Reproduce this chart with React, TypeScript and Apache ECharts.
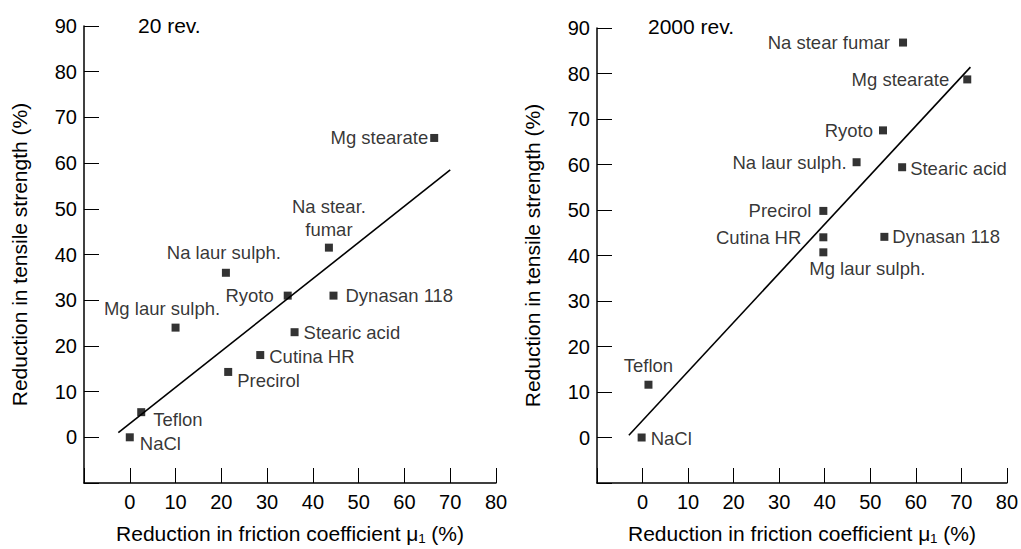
import React, { useEffect, useRef } from "react";
import * as echarts from "echarts";

// ---- Data ----
const xTicks = [-10, 0, 10, 20, 30, 40, 50, 60, 70, 80];
const yTicks = [-10, 0, 10, 20, 30, 40, 50, 60, 70, 80, 90];

const leftTitle = "20 rev.";
const leftNames = ["Mg stearate", "Na stear.\nfumar", "Na laur sulph.", "Ryoto", "Dynasan 118", "Mg laur sulph.", "Stearic acid", "Cutina HR", "Precirol", "Teflon", "NaCl"];
const leftX = [66.5, 43.5, 21, 34.5, 44.5, 10, 36, 28.5, 21.5, 2.5, 0];
const leftY = [65.5, 41.5, 36, 31, 31, 24, 23, 18, 14.3, 5.5, 0];
const leftFitX = [-2.5, 70];
const leftFitY = [1, 58.5];

const rightTitle = "2000 rev.";
const rightNames = ["Na stear fumar", "Mg stearate", "Ryoto", "Na laur sulph.", "Stearic acid", "Precirol", "Cutina HR", "Dynasan 118", "Mg laur sulph.", "Teflon", "NaCl"];
const rightX = [57.2, 71.3, 52.8, 47, 57, 39.7, 39.7, 53.1, 39.7, 1.3, -0.2];
const rightY = [86.8, 78.7, 67.5, 60.5, 59.4, 49.8, 44, 44.1, 40.7, 11.6, 0];
const rightFitX = [-3, 72];
const rightFitY = [0.5, 81.4];

const xName = "Reduction in friction coefficient μ₁ (%)";
const yName = "Reduction in tensile strength (%)";

// ---- Label layout (styling only) ----
type LL = { position: string; distance: number; offset?: number[] };
const leftLabelLayout: LL[] = [
  { position: "left", distance: 2 },
  { position: "top", distance: 3 },
  { position: "top", distance: 5, offset: [-2, 0] },
  { position: "left", distance: 10 },
  { position: "right", distance: 8 },
  { position: "top", distance: 4, offset: [-13.5, 0] },
  { position: "right", distance: 5 },
  { position: "right", distance: 5, offset: [0, 1] },
  { position: "right", distance: 5, offset: [0, 9] },
  { position: "right", distance: 8, offset: [0, 7] },
  { position: "right", distance: 6, offset: [0, 6] },
];
const rightLabelLayout: LL[] = [
  { position: "left", distance: 9 },
  { position: "left", distance: 14 },
  { position: "left", distance: 6 },
  { position: "left", distance: 6 },
  { position: "right", distance: 4, offset: [0, 1] },
  { position: "left", distance: 8 },
  { position: "left", distance: 18 },
  { position: "right", distance: 4 },
  { position: "bottom", distance: 1, offset: [44, 0] },
  { position: "top", distance: 4 },
  { position: "right", distance: 5, offset: [0, 1] },
];

const FONT = "'Liberation Sans', Arial, Helvetica, sans-serif";
const INK = "#000";

function axisPair(idx: number) {
  const common = {
    gridIndex: idx,
    type: "value" as const,
    min: -10,
    interval: 10,
    axisLine: { show: true, onZero: false, lineStyle: { color: INK, width: 1.5 } },
    axisTick: { show: true, inside: true, length: 15, lineStyle: { color: INK, width: 1 } },
    splitLine: { show: false },
    nameLocation: "middle" as const,
    nameTextStyle: { color: INK, fontSize: 21, fontFamily: FONT },
  };
  const x = {
    ...common,
    max: xTicks[xTicks.length - 1],
    name: xName,
    nameGap: 40,
    axisLabel: {
      color: INK, fontSize: 20, fontFamily: FONT, margin: 9,
      formatter: (v: number) => (v === xTicks[0] ? "" : String(v)),
    },
  };
  const y = {
    ...common,
    max: yTicks[yTicks.length - 1],
    name: yName,
    nameGap: 54,
    nameRotate: 90,
    axisLabel: {
      color: INK, fontSize: 20, fontFamily: FONT, margin: 7,
      formatter: (v: number) => (v === yTicks[0] ? "" : String(v)),
    },
  };
  return { x, y };
}

function scatterData(names: string[], xs: number[], ys: number[], layout: LL[]) {
  return names.map((n, i) => ({
    name: n,
    value: [xs[i], ys[i]],
    label: {
      show: true,
      formatter: n,
      position: layout[i].position,
      distance: layout[i].distance,
      offset: layout[i].offset || [0, 0],
      color: INK,
      fontSize: 18.5,
      fontFamily: FONT,
      lineHeight: 23,
      align: layout[i].position === "top" || layout[i].position === "bottom" ? "center" : undefined,
    },
  }));
}

export default function App() {
  const ref = useRef<HTMLDivElement>(null);
  useEffect(() => {
    if (!ref.current) return;
    const chart = echarts.init(ref.current, undefined, { renderer: "svg" });
    const a0 = axisPair(0);
    const a1 = axisPair(1);
    chart.setOption({
      animation: false,
      backgroundColor: "#fff",
      title: [
        { text: leftTitle, left: 138, top: 15, padding: 0, textStyle: { color: INK, fontSize: 21, fontWeight: "normal", fontFamily: FONT } },
        { text: rightTitle, left: 648, top: 16, padding: 0, textStyle: { color: INK, fontSize: 21, fontWeight: "normal", fontFamily: FONT } },
      ],
      grid: [
        { left: 84, top: 26, width: 412, height: 458 },
        { left: 597, top: 28, width: 412, height: 457 },
      ],
      xAxis: [a0.x, a1.x],
      yAxis: [a0.y, a1.y],
      series: [
        {
          type: "line", xAxisIndex: 0, yAxisIndex: 0, showSymbol: false, silent: true,
          data: leftFitX.map((x, i) => [x, leftFitY[i]]),
          lineStyle: { color: INK, width: 1.6 },
        },
        {
          type: "line", xAxisIndex: 1, yAxisIndex: 1, showSymbol: false, silent: true,
          data: rightFitX.map((x, i) => [x, rightFitY[i]]),
          lineStyle: { color: INK, width: 1.6 },
        },
        {
          type: "scatter", xAxisIndex: 0, yAxisIndex: 0, symbol: "rect", symbolSize: 8,
          itemStyle: { color: INK },
          data: scatterData(leftNames, leftX, leftY, leftLabelLayout),
        },
        {
          type: "scatter", xAxisIndex: 1, yAxisIndex: 1, symbol: "rect", symbolSize: 8,
          itemStyle: { color: INK },
          data: scatterData(rightNames, rightX, rightY, rightLabelLayout),
        },
      ],
    });
    return () => chart.dispose();
  }, []);
  return <div ref={ref} style={{ position: "absolute", left: 0, top: 0, width: 1021, height: 549 }} />;
}
